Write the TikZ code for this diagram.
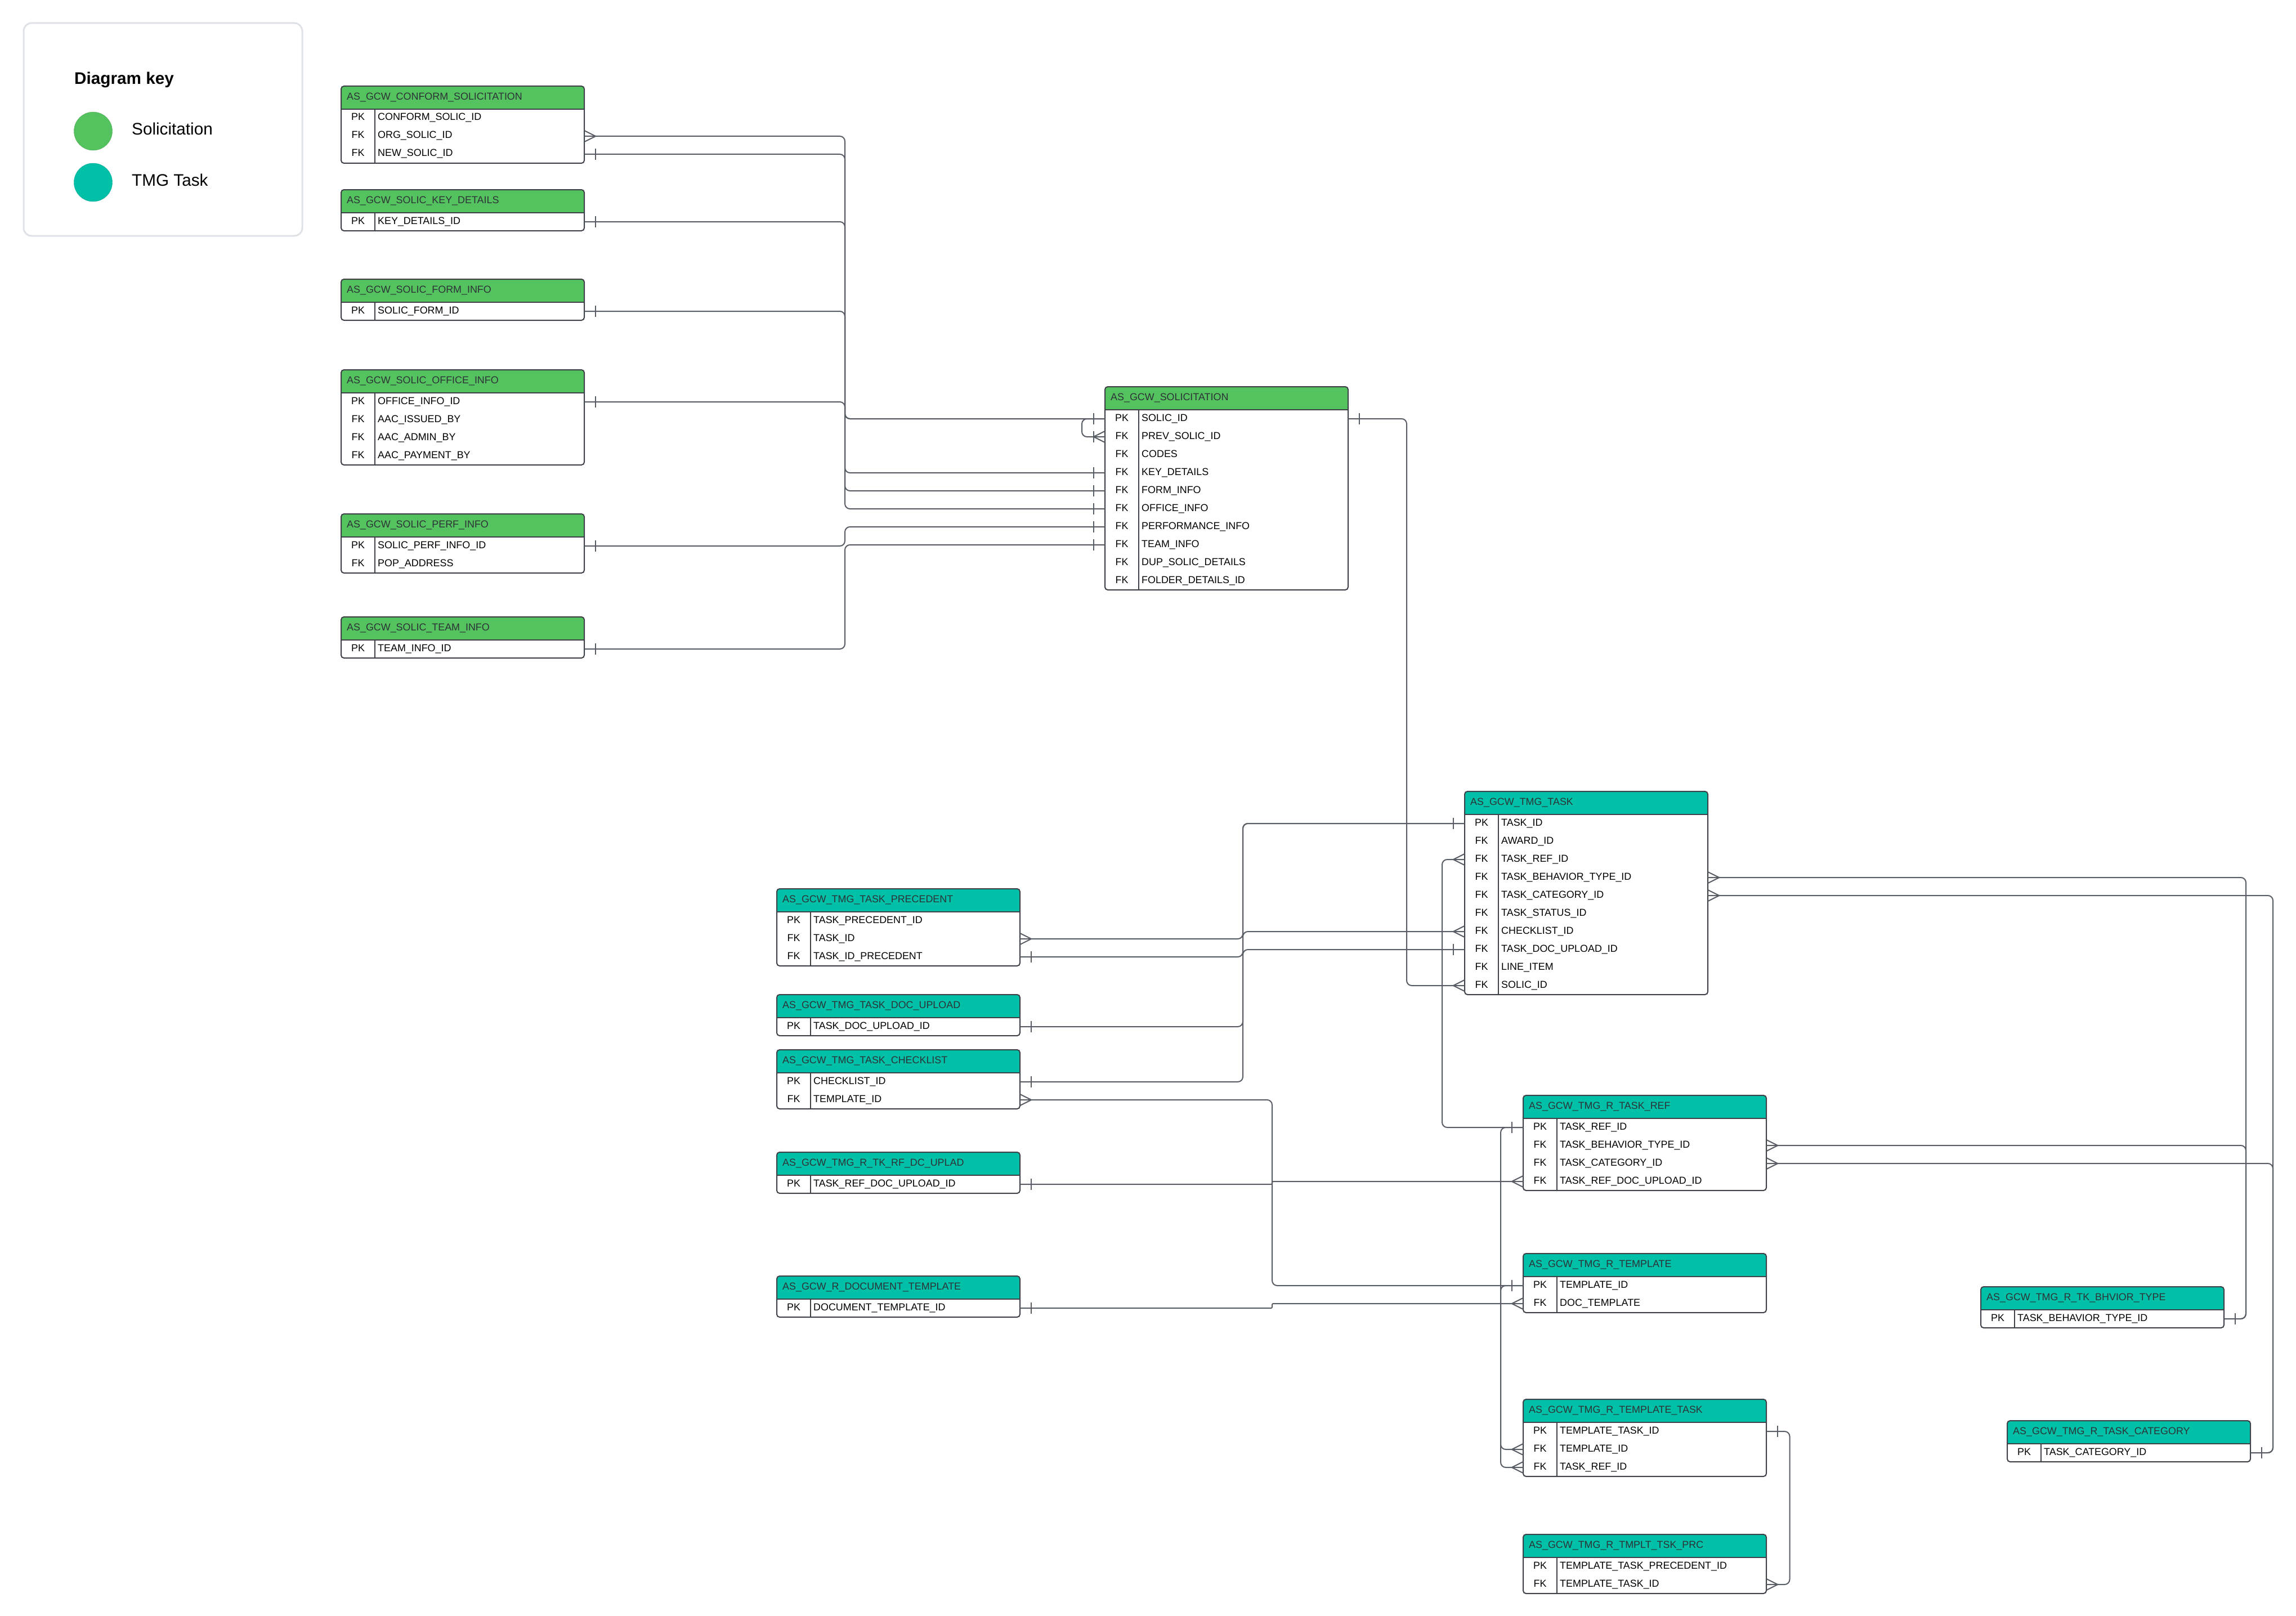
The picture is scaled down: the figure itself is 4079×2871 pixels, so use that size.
\documentclass[tikz,border=0pt]{standalone}
\usepackage{fontspec}
\setmainfont{Liberation Sans}

\definecolor{solgreen}{RGB}{84,195,95}
\definecolor{tmgteal}{RGB}{0,193,168}
\definecolor{relline}{RGB}{88,93,101}
\definecolor{tableline}{RGB}{62,66,72}
\definecolor{headtext}{RGB}{45,50,55}
\definecolor{keyframe}{RGB}{222,225,230}

\newcommand{\erfont}{\fontsize{17.9}{20}\selectfont}
\newcommand{\keyfont}{\fontsize{29.7}{34}\selectfont}

\tikzset{
  ertitle/.style={anchor=base west, inner sep=0pt, text=headtext, font=\erfont},
  erkey/.style={anchor=base, inner sep=0pt, font=\erfont},
  erfield/.style={anchor=base west, inner sep=0pt, font=\erfont},
  errow/.style={minimum width=432pt, minimum height=32pt, inner sep=0pt},
  erline/.style={draw=tableline, line width=2pt},
  rel/.style={draw=relline, line width=2pt, rounded corners=9pt},
  jog/.style={draw=relline, line width=2pt, rounded corners=2pt},
  relmark/.style={draw=relline, line width=2pt},
  keytext/.style={anchor=base west, inner sep=0pt, font=\keyfont},
  keydot/.style={circle, minimum size=68pt, inner sep=0pt},
}

% table: name, left, top, colour, title, number of rows, key/field list
\newcommand{\ertable}[7]{%
  \pgfmathsetmacro{\erbot}{#3+41+32*#6}
  \begin{scope}
    \clip[rounded corners=5pt] (#2,#3) rectangle ({#2+432},\erbot);
    \fill[white] (#2,#3) rectangle ({#2+432},\erbot);
    \fill[#4] (#2,#3) rectangle ({#2+432},{#3+41});
  \end{scope}
  \node[ertitle] (#1) at ({#2+10},{#3+24.5}) {#5};
  \foreach \k/\f [count=\i] in {#7} {
    \node[errow] (#1-\i) at ({#2+216},{#3+57+32*(\i-1)}) {};
    \node[erkey] (#1-\i-k) at ({#2+30},{#3+61+32*(\i-1)}) {\k};
    \node[erfield] (#1-\i-f) at ({#2+65},{#3+61+32*(\i-1)}) {\f};
  }
  \draw[erline] (#2,{#3+41}) -- ({#2+432},{#3+41});
  \draw[tableline, line width=1.2pt] ({#2+60},{#3+41}) -- ({#2+60},\erbot);
  \draw[erline, rounded corners=5pt] (#2,#3) rectangle ({#2+432},\erbot);
}

% relation ends: bar (one) and crow's foot (many)
\newcommand{\erone}[2]{\draw[relmark] ([xshift=#2]#1) ++(0,-10) -- ++(0,20);}
\newcommand{\ermany}[2]{\draw[relmark] ([yshift=10pt]#1) -- ([xshift=#2]#1) -- ([yshift=-10pt]#1);}

\begin{document}
\begin{tikzpicture}[x=1pt, y=-1pt]
  \fill[white] (0,0) rectangle (4079,2871);
  \useasboundingbox (0,0) rectangle (4079,2871);

% --- KEY ---
  \draw[keyframe, line width=3pt, rounded corners=14pt] (42,41) rectangle (537,419);
  \node[keytext, font=\keyfont\bfseries] (keytitle) at (132,149.4) {Diagram key};
  \node[keydot, fill=solgreen, draw=solgreen!85!black] (soldot) at (165.5,233) {};
  \node[keytext] (soltext) at (234,239.6) {Solicitation};
  \node[keydot, fill=tmgteal, draw=tmgteal!85!black] (tmgdot) at (165.5,324) {};
  \node[keytext] (tmgtext) at (234,330.3) {TMG Task};

% --- SOLICITATION ---
  \ertable{conform}{606}{153}{solgreen}{AS\_GCW\_CONFORM\_SOLICITATION}{3}
    {PK/CONFORM\_SOLIC\_ID, FK/ORG\_SOLIC\_ID, FK/NEW\_SOLIC\_ID}
  \ertable{keydet}{606}{337}{solgreen}{AS\_GCW\_SOLIC\_KEY\_DETAILS}{1}
    {PK/KEY\_DETAILS\_ID}
  \ertable{forminfo}{606}{496}{solgreen}{AS\_GCW\_SOLIC\_FORM\_INFO}{1}
    {PK/SOLIC\_FORM\_ID}
  \ertable{officeinfo}{606}{657}{solgreen}{AS\_GCW\_SOLIC\_OFFICE\_INFO}{4}
    {PK/OFFICE\_INFO\_ID, FK/AAC\_ISSUED\_BY, FK/AAC\_ADMIN\_BY, FK/AAC\_PAYMENT\_BY}
  \ertable{perfinfo}{606}{913}{solgreen}{AS\_GCW\_SOLIC\_PERF\_INFO}{2}
    {PK/SOLIC\_PERF\_INFO\_ID, FK/POP\_ADDRESS}
  \ertable{teaminfo}{606}{1096}{solgreen}{AS\_GCW\_SOLIC\_TEAM\_INFO}{1}
    {PK/TEAM\_INFO\_ID}
  \ertable{sol}{1963}{687}{solgreen}{AS\_GCW\_SOLICITATION}{10}
    {PK/SOLIC\_ID, FK/PREV\_SOLIC\_ID, FK/CODES, FK/KEY\_DETAILS, FK/FORM\_INFO,
     FK/OFFICE\_INFO, FK/PERFORMANCE\_INFO, FK/TEAM\_INFO, FK/DUP\_SOLIC\_DETAILS,
     FK/FOLDER\_DETAILS\_ID}

% --- TMG TASK ---
  \ertable{task}{2602}{1406}{tmgteal}{AS\_GCW\_TMG\_TASK}{10}
    {PK/TASK\_ID, FK/AWARD\_ID, FK/TASK\_REF\_ID, FK/TASK\_BEHAVIOR\_TYPE\_ID,
     FK/TASK\_CATEGORY\_ID, FK/TASK\_STATUS\_ID, FK/CHECKLIST\_ID,
     FK/TASK\_DOC\_UPLOAD\_ID, FK/LINE\_ITEM, FK/SOLIC\_ID}
  \ertable{prec}{1380}{1579}{tmgteal}{AS\_GCW\_TMG\_TASK\_PRECEDENT}{3}
    {PK/TASK\_PRECEDENT\_ID, FK/TASK\_ID, FK/TASK\_ID\_PRECEDENT}
  \ertable{docup}{1380}{1767}{tmgteal}{AS\_GCW\_TMG\_TASK\_DOC\_UPLOAD}{1}
    {PK/TASK\_DOC\_UPLOAD\_ID}
  \ertable{check}{1380}{1865}{tmgteal}{AS\_GCW\_TMG\_TASK\_CHECKLIST}{2}
    {PK/CHECKLIST\_ID, FK/TEMPLATE\_ID}
  \ertable{tkrf}{1380}{2047}{tmgteal}{AS\_GCW\_TMG\_R\_TK\_RF\_DC\_UPLAD}{1}
    {PK/TASK\_REF\_DOC\_UPLOAD\_ID}
  \ertable{rdoc}{1380}{2267}{tmgteal}{AS\_GCW\_R\_DOCUMENT\_TEMPLATE}{1}
    {PK/DOCUMENT\_TEMPLATE\_ID}
  \ertable{taskref}{2706}{1946}{tmgteal}{AS\_GCW\_TMG\_R\_TASK\_REF}{4}
    {PK/TASK\_REF\_ID, FK/TASK\_BEHAVIOR\_TYPE\_ID, FK/TASK\_CATEGORY\_ID,
     FK/TASK\_REF\_DOC\_UPLOAD\_ID}
  \ertable{rtempl}{2706}{2227}{tmgteal}{AS\_GCW\_TMG\_R\_TEMPLATE}{2}
    {PK/TEMPLATE\_ID, FK/DOC\_TEMPLATE}
  \ertable{rtt}{2706}{2486}{tmgteal}{AS\_GCW\_TMG\_R\_TEMPLATE\_TASK}{3}
    {PK/TEMPLATE\_TASK\_ID, FK/TEMPLATE\_ID, FK/TASK\_REF\_ID}
  \ertable{prc}{2706}{2726}{tmgteal}{AS\_GCW\_TMG\_R\_TMPLT\_TSK\_PRC}{2}
    {PK/TEMPLATE\_TASK\_PRECEDENT\_ID, FK/TEMPLATE\_TASK\_ID}
  \ertable{bhv}{3519}{2286}{tmgteal}{AS\_GCW\_TMG\_R\_TK\_BHVIOR\_TYPE}{1}
    {PK/TASK\_BEHAVIOR\_TYPE\_ID}
  \ertable{cat}{3566}{2524}{tmgteal}{AS\_GCW\_TMG\_R\_TASK\_CATEGORY}{1}
    {PK/TASK\_CATEGORY\_ID}

% --- buses ---
  \coordinate (solbus) at (1501,0);
  \coordinate (loopbus) at (1922,0);
  \coordinate (taskbus) at (2499,0);
  \coordinate (tmgbus) at (2208,0);
  \coordinate (refbus) at (2562,0);
  \coordinate (tplbus) at (2260,0);
  \coordinate (ttbus) at (2666,0);
  \coordinate (prcbus) at (3179.5,0);
  \coordinate (bhvbus) at (3990,0);
  \coordinate (catbus) at (4038,0);

% --- relations ---
  \draw[rel] (conform-2.east) -| (solbus |- sol-1.west) -- (sol-1.west);
  \draw[rel] (conform-3.east) -| (solbus |- sol-1.west) -- (sol-1.west);
  \draw[rel] (keydet-1.east) -| (solbus |- sol-4.west) -- (sol-4.west);
  \draw[rel] (forminfo-1.east) -| (solbus |- sol-5.west) -- (sol-5.west);
  \draw[rel] (officeinfo-1.east) -| (solbus |- sol-6.west) -- (sol-6.west);
  \draw[rel] (perfinfo-1.east) -| (solbus |- sol-7.west) -- (sol-7.west);
  \draw[rel] (teaminfo-1.east) -| (solbus |- sol-8.west) -- (sol-8.west);
  \draw[rel] (sol-1.west) -| (loopbus |- sol-2.west) -- (sol-2.west);
  \draw[rel] (sol-1.east) -| (taskbus |- task-10.west) -- (task-10.west);

  \draw[rel] (prec-2.east) -| (tmgbus |- task-1.west) -- (task-1.west);
  \draw[rel] (prec-3.east) -| (tmgbus |- task-1.west) -- (task-1.west);
  \draw[rel] (docup-1.east) -| (tmgbus |- task-8.west) -- (task-8.west);
  \draw[rel] (check-1.east) -| (tmgbus |- task-7.west) -- (task-7.west);
  \draw[rel] (task-3.west) -| (refbus |- taskref-1.west) -- (taskref-1.west);
  \draw[rel] (check-2.east) -| (tplbus |- rtempl-1.west) -- (rtempl-1.west);
  \draw[jog] (tkrf-1.east) -| (tplbus |- taskref-4.west) -- (taskref-4.west);
  \draw[jog] (rdoc-1.east) -| (tplbus |- rtempl-2.west) -- (rtempl-2.west);
  \draw[rel] (taskref-1.west) -| (ttbus |- rtt-3.west) -- (rtt-3.west);
  \draw[rel] (rtempl-1.west) -| (ttbus |- rtt-2.west) -- (rtt-2.west);
  \draw[rel] (rtt-1.east) -| (prcbus |- prc-2.east) -- (prc-2.east);
  \draw[rel] (task-4.east) -| (bhvbus |- bhv-1.east) -- (bhv-1.east);
  \draw[rel] (taskref-2.east) -| (bhvbus |- bhv-1.east) -- (bhv-1.east);
  \draw[rel] (task-5.east) -| (catbus |- cat-1.east) -- (cat-1.east);
  \draw[rel] (taskref-3.east) -| (catbus |- cat-1.east) -- (cat-1.east);

% --- ends ---
  \ermany{conform-2.east}{20pt}
  \erone{conform-3.east}{20pt}
  \erone{keydet-1.east}{20pt}
  \erone{forminfo-1.east}{20pt}
  \erone{officeinfo-1.east}{20pt}
  \erone{perfinfo-1.east}{20pt}
  \erone{teaminfo-1.east}{20pt}
  \foreach \r in {1,4,5,6,7,8} {\erone{sol-\r.west}{-20pt}}
  \ermany{sol-2.west}{-20pt}
  \erone{sol-2.west}{-20pt}
  \erone{sol-1.east}{20pt}

  \ermany{prec-2.east}{20pt}
  \erone{prec-3.east}{20pt}
  \erone{docup-1.east}{20pt}
  \erone{check-1.east}{20pt}
  \ermany{check-2.east}{20pt}
  \erone{tkrf-1.east}{20pt}
  \erone{rdoc-1.east}{20pt}
  \erone{task-1.west}{-20pt}
  \ermany{task-3.west}{-20pt}
  \ermany{task-7.west}{-20pt}
  \erone{task-8.west}{-20pt}
  \ermany{task-10.west}{-20pt}
  \ermany{task-4.east}{20pt}
  \ermany{task-5.east}{20pt}
  \erone{taskref-1.west}{-20pt}
  \ermany{taskref-4.west}{-20pt}
  \ermany{taskref-2.east}{20pt}
  \ermany{taskref-3.east}{20pt}
  \erone{rtempl-1.west}{-20pt}
  \ermany{rtempl-2.west}{-20pt}
  \ermany{rtt-2.west}{-20pt}
  \ermany{rtt-3.west}{-20pt}
  \erone{rtt-1.east}{20pt}
  \ermany{prc-2.east}{20pt}
  \erone{bhv-1.east}{20pt}
  \erone{cat-1.east}{20pt}
\end{tikzpicture}
\end{document}
